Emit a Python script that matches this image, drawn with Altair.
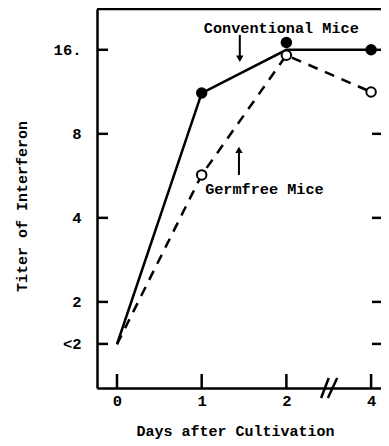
import altair as alt
import pandas as pd

# ---- data ----
day_pos = [0, 1, 2, 3]              # plotting positions (axis break between 2 and 4)
day_labels = ["0", "1", "2", "4"]
conv_line_vals = [1.41, 11.2, 16.0, 16.0]   # Conventional mice, line
conv_pt_pos = [1, 2, 3]
conv_pt_vals = [11.2, 17.0, 16.0]          # Conventional mice, filled dots
germ_line_vals = [1.41, 5.7, 15.3, 11.3]   # Germfree mice, dashed line
germ_pt_pos = [1, 2, 3]
germ_pt_vals = [5.7, 15.3, 11.3]           # Germfree mice, open circles
y_tick_vals = [1.414, 2, 4, 8, 16]

FONT = "Liberation Mono"
W, H = 284, 379

conv_line = pd.DataFrame({"x": day_pos, "y": conv_line_vals})
conv_pts = pd.DataFrame({"x": conv_pt_pos, "y": conv_pt_vals})
germ_line = pd.DataFrame({"x": day_pos, "y": germ_line_vals})
germ_pts = pd.DataFrame({"x": germ_pt_pos, "y": germ_pt_vals})
yticks = pd.DataFrame({"y": y_tick_vals})
xticks = pd.DataFrame({"x": day_pos})

xscale = alt.Scale(domain=[-0.236, 3.117], nice=False, zero=False)
yscale = alt.Scale(type="log", base=2, domain=[0.983, 22.4], nice=False)

xaxis = alt.Axis(
    values=day_pos,
    labelExpr="datum.value == 3 ? '4' : format(datum.value, 'd')",
    title="Days after Cultivation",
    titleX=138, titleY=42, titleBaseline="middle", titleAlign="center",
    labelPadding=5,
)
yaxis = alt.Axis(
    values=y_tick_vals,
    labelExpr="datum.value < 1.9 ? '<2' : (datum.value > 15 ? '16.' : format(datum.value, 'd'))",
    title="Titer of Interferon",
    titleX=-76, titleY=197, titleAngle=270, titleAlign="center", titleBaseline="middle",
    labelPadding=16,
)


def X(f):
    return alt.X(f, scale=xscale, axis=xaxis)


def Y(f):
    return alt.Y(f, scale=yscale, axis=yaxis)


conv = alt.Chart(conv_line).mark_line(color="black", strokeWidth=2.5).encode(
    x=X("x:Q"), y=Y("y:Q"),
)
germ = alt.Chart(germ_line).mark_line(color="black", strokeWidth=2.5, strokeDash=[10, 8]).encode(
    x=X("x:Q"), y=Y("y:Q")
)
conv_p = alt.Chart(conv_pts).mark_point(filled=True, color="black", size=130, opacity=1).encode(
    x=X("x:Q"), y=Y("y:Q")
)
germ_p = alt.Chart(germ_pts).mark_point(filled=True, fill="white", stroke="black", strokeWidth=2,
                                         size=90, opacity=1).encode(
    x=X("x:Q"), y=Y("y:Q")
)

# inward ticks
ytick_l = alt.Chart(yticks).mark_rule(color="black", strokeWidth=2.5).encode(
    y=Y("y:Q"), x=alt.value(0), x2=alt.value(11)
)
ytick_r = alt.Chart(yticks).mark_rule(color="black", strokeWidth=2.5).encode(
    y=Y("y:Q"), x=alt.value(W - 9), x2=alt.value(W)
)
xtick = alt.Chart(xticks).mark_rule(color="black", strokeWidth=2.5).encode(
    x=X("x:Q"), y=alt.value(H - 14), y2=alt.value(H)
)
top_line = alt.Chart(pd.DataFrame({"a": [0]})).mark_rule(color="black", strokeWidth=2.5).encode(
    x=alt.value(0), x2=alt.value(W), y=alt.value(0)
)

# axis break marks "//"
brk = pd.DataFrame({"x": [2.41, 2.49], "x1": [2.50, 2.60]})
break_marks = alt.Chart(brk).mark_rule(color="black", strokeWidth=2.5).encode(
    x=X("x:Q"), x2="x1:Q", y=alt.value(H + 10), y2=alt.value(H - 10)
)

# annotations
labels = pd.DataFrame({"x": [1.94, 1.74], "y": [19.2, 5.08],
                       "t": ["Conventional Mice", "Germfree Mice"]})
text = alt.Chart(labels).mark_text(font=FONT, fontWeight="bold", fontSize=15.2, color="black").encode(
    x=X("x:Q"), y=Y("y:Q"), text="t:N"
)
shafts = pd.DataFrame({"x": [1.45, 1.44], "y": [18.1, 5.7], "y2": [15.1, 6.9]})
shaft = alt.Chart(shafts).mark_rule(color="black", strokeWidth=2).encode(
    x=X("x:Q"), y=Y("y:Q"), y2="y2:Q"
)
heads = pd.DataFrame({"x": [1.45, 1.44], "y": [14.86, 7.01], "s": ["triangle-down", "triangle-up"]})
head = alt.Chart(heads).mark_point(filled=True, color="black", size=55, opacity=1).encode(
    x=X("x:Q"), y=Y("y:Q"),
    shape=alt.Shape("s:N", scale=None, legend=None),
)

chart = alt.layer(
    conv, germ, conv_p, germ_p, ytick_l, ytick_r, xtick, top_line, break_marks, text, shaft, head
).properties(
    width=W, height=H,
    padding={"left": 89, "top": 1, "right": 0, "bottom": 52},
    autosize=alt.AutoSizeParams(type="none"),
).configure_view(stroke=None).configure_axis(
    grid=False, ticks=False, domainColor="black", domainWidth=2.5,
    labelFont=FONT, labelFontWeight="bold", labelFontSize=15.5, labelColor="black",
    titleFont=FONT, titleFontWeight="bold", titleFontSize=15, titleColor="black",
)

chart.save("out.html", embed_options={"renderer": "svg", "actions": False})
